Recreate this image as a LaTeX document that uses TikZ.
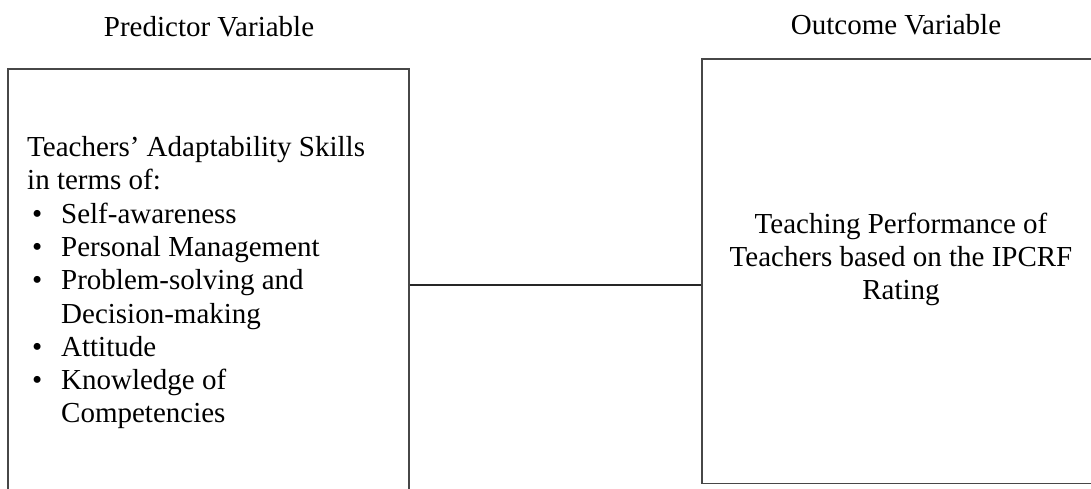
\documentclass[tikz,border=0pt]{standalone}
\usepackage{fontspec}
\setmainfont{Liberation Serif}
\usetikzlibrary{positioning}

% one bullet line and one hanging continuation line
\newcommand{\bitem}[1]{\makebox[5pt][l]{}\makebox[29pt][l]{\textbullet}#1}
\newcommand{\bcont}[1]{\hspace*{34pt}#1}

\begin{document}
\begin{tikzpicture}[x=1pt,y=1pt,
		varbox/.style={draw=black!72,line width=1.4pt,inner sep=0pt},
		heading/.style={font=\fontsize{29}{33.3}\selectfont,anchor=base,inner sep=0pt},
		boxtext/.style={font=\fontsize{29}{33.3}\selectfont,inner sep=0pt}]
		\useasboundingbox (0,0) rectangle (1091,489);
		\clip (0,0) rectangle (1091,489);

		% the two boxes (both run past the page edge)
		\node[varbox,minimum width=401pt,minimum height=460pt] (pred) at (208.5,190) {};
		\node[varbox,minimum width=393pt,minimum height=424.5pt] (outc) at (898.5,217.75) {};

		% column headings
		\node[heading] (predhead) at (209,452) {Predictor Variable};
		\node[heading] (outchead) at (896,454) {Outcome Variable};

		% predictor variables (base = last line)
		\node[boxtext,align=left,anchor=base west] (predtext) at (27,66) {%
			Teachers’ Adaptability Skills\\
			in terms of:\\
			\bitem{Self-awareness}\\
			\bitem{Personal Management}\\
			\bitem{Problem-solving and}\\
			\bcont{Decision-making}\\
			\bitem{Attitude}\\
			\bitem{Knowledge of}\\
			\bcont{Competencies}};

		% outcome variable
		\node[boxtext,align=center,anchor=base] (outctext) at (901,189) {%
			Teaching Performance of\\
			Teachers based on the IPCRF\\
			Rating};

		% link between the boxes
		\coordinate (link) at (0,204);
		\draw[black!85,line width=1.1pt] (pred.east |- link) -- (outc.west |- link);
\end{tikzpicture}
\end{document}
